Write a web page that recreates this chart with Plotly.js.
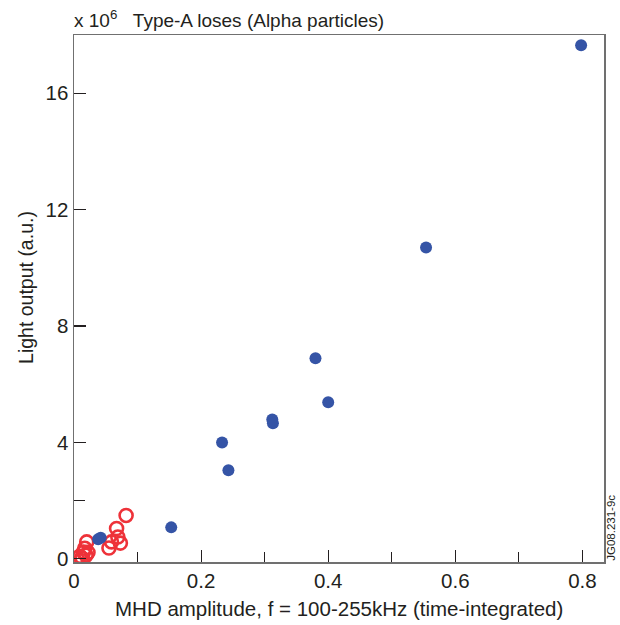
<!DOCTYPE html>
<html>
<head>
<meta charset="utf-8">
<script src="https://cdn.plot.ly/plotly-3.0.1.min.js"></script>
<style>
  html, body { margin: 0; padding: 0; background: #fff; }
  #chart { width: 620px; height: 625px; }
</style>
</head>
<body>
<div id="chart"></div>
<script>
// Type-A losses: MHD amplitude vs. light output (units of 10^6)
const typeAX = [0.798, 0.554, 0.380, 0.400, 0.312, 0.313, 0.233, 0.243, 0.153, 0.042, 0.038];
const typeAY = [17.65, 10.70, 6.89, 5.38, 4.79, 4.66, 4.00, 3.04, 1.08, 0.72, 0.67];

const otherX = [0.082, 0.067, 0.069, 0.059, 0.073, 0.055, 0.020, 0.015, 0.013, 0.017, 0.019, 0.009, 0.022, 0.012];
const otherY = [1.49, 1.04, 0.75, 0.58, 0.54, 0.37, 0.58, 0.23, 0.01, 0.36, 0.12, 0.09, 0.22, 0.03];

const xTickVals = [0, 0.2, 0.4, 0.6, 0.8];
const xTickText = ['0', '0.2', '0.4', '0.6', '0.8'];
const xMinorVals = [0.1, 0.3, 0.5, 0.7];
const yTickVals = [0, 4, 8, 12, 16];
const yTickText = ['0', '4', '8', '12', '16'];
const yMinorVals = [2];

const FONT = 'Liberation Sans, Arial, Helvetica, sans-serif';
const INK = '#231f20';
const FRAME = '#707070';

const traces = [
  {
    x: otherX, y: otherY, type: 'scatter', mode: 'markers',
    marker: { symbol: 'circle-open', size: 13, color: '#ee3239', line: { width: 2.6, color: '#ee3239' } },
    hoverinfo: 'x+y'
  },
  {
    x: typeAX, y: typeAY, type: 'scatter', mode: 'markers',
    marker: { symbol: 'circle', size: 12, color: '#3554a6', line: { width: 0 } },
    hoverinfo: 'x+y'
  }
];

const layout = {
  width: 620, height: 625,
  margin: { l: 74, r: 16, t: 35, b: 63 },
  paper_bgcolor: '#fff', plot_bgcolor: '#fff',
  showlegend: false,
  font: { family: FONT, size: 20, color: INK },
  xaxis: {
    range: [0, 0.834], showgrid: false, zeroline: false,
    showline: true, linecolor: FRAME, linewidth: 1.5, mirror: true,
    ticks: 'inside', ticklen: 12, tickwidth: 1.2, tickcolor: INK,
    tickvals: xTickVals, ticktext: xTickText,
    minor: { tickvals: xMinorVals, ticks: 'inside', ticklen: 10, tickwidth: 1.2, tickcolor: INK },
    tickfont: { family: FONT, size: 20.5, color: INK }
  },
  yaxis: {
    range: [-0.11, 18.0], showgrid: false, zeroline: false,
    showline: true, linecolor: FRAME, linewidth: 1.5, mirror: true,
    ticks: 'inside', ticklen: 12, tickwidth: 1.2, tickcolor: INK,
    tickvals: yTickVals, ticktext: yTickText,
    minor: { tickvals: yMinorVals, ticks: 'inside', ticklen: 11, tickwidth: 1.2, tickcolor: INK },
    tickfont: { family: FONT, size: 20.5, color: INK }
  },
  annotations: [
    {
      text: 'x 10<sup>6</sup>   Type-A loses (Alpha particles)',
      xref: 'paper', yref: 'paper', x: 0, y: 1, xanchor: 'left', yanchor: 'bottom',
      xshift: -2, yshift: 2, showarrow: false, font: { family: FONT, size: 19, color: INK }
    },
    {
      text: 'MHD amplitude, f = 100-255kHz (time-integrated)',
      xref: 'paper', yref: 'paper', x: 0.5, y: 0, xanchor: 'center', yanchor: 'middle',
      yshift: -46, showarrow: false, font: { family: FONT, size: 20.5, color: INK }
    },
    {
      text: 'Light output (a.u.)',
      xref: 'paper', yref: 'paper', x: 0, y: 0.52, xanchor: 'center', yanchor: 'middle',
      xshift: -48, textangle: -90, showarrow: false, font: { family: FONT, size: 19.5, color: INK }
    },
    {
      text: 'JG08.231-9c',
      xref: 'paper', yref: 'paper', x: 1, y: 0.065, xanchor: 'center', yanchor: 'middle',
      xshift: 7, textangle: -90, showarrow: false, font: { family: FONT, size: 11.5, color: INK }
    }
  ]
};

Plotly.newPlot('chart', traces, layout, { displayModeBar: false, staticPlot: true });
</script>
</body>
</html>
